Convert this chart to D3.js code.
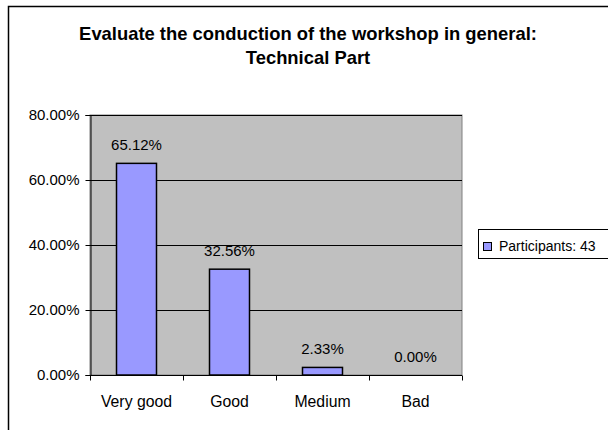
<!DOCTYPE html>
<html><head><meta charset="utf-8">
<script src="https://cdn.jsdelivr.net/npm/d3@7"></script>
<style>body{margin:0;background:#fff}svg{display:block;font-family:"Liberation Sans",Arial,sans-serif}</style>
</head><body><svg id="c" width="608" height="430"></svg>
<script>
const categories = ["Very good","Good","Medium","Bad"];
const values = [65.12, 32.56, 2.33, 0.00];
const yTicks = [0, 20, 40, 60, 80];
const seriesName = "Participants: 43";
const titleLines = ["Evaluate the conduction of the workshop in general:", "Technical Part"];

const svg = d3.select("#c");
svg.append("rect").attr("x",8.5).attr("y",6.5).attr("width",640).attr("height",460)
  .attr("fill","#fff").attr("stroke","#000").attr("stroke-width",1.5);

const m = {l:90, t:115, r:462, b:375};
const x = d3.scaleBand().domain(categories).range([m.l, m.r]).paddingInner(0.57).paddingOuter(0.285);
const xb = d3.scaleBand().domain(categories).range([m.l, m.r]);
const y = d3.scaleLinear().domain([0,80]).range([m.b, m.t]);

svg.append("rect").attr("x",m.l).attr("y",m.t).attr("width",m.r-m.l).attr("height",m.b-m.t)
  .attr("fill","#c0c0c0").attr("stroke","#808080").attr("stroke-width",1);

svg.append("g").selectAll("line").data(yTicks.slice(1)).join("line")
  .attr("x1",m.l).attr("x2",m.r).attr("y1",d=>Math.round(y(d))+0.5).attr("y2",d=>Math.round(y(d))+0.5)
  .attr("stroke","#000").attr("stroke-width",1);

svg.append("g").selectAll("rect").data(values).join("rect")
  .attr("x",(d,i)=>x(categories[i])).attr("width",x.bandwidth())
  .attr("y",d=>y(d)).attr("height",d=>y(0)-y(d))
  .attr("fill","#9999ff").attr("stroke","#000").attr("stroke-width",1.5);

// y axis
const ya = svg.append("g").attr("transform",`translate(${m.l+0.5},0)`)
  .call(d3.axisLeft(y).tickValues(yTicks).tickSize(5).tickPadding(6).tickFormat(d=>d.toFixed(2)+"%"));
ya.select(".domain").attr("stroke","#000");
ya.selectAll("text").attr("font-size",15).attr("fill","#000").attr("font-family","Liberation Sans, Arial, sans-serif");

// x axis
const xa = svg.append("g").attr("transform",`translate(0,${m.b+0.5})`);
xa.append("line").attr("x1",m.l).attr("x2",m.r).attr("stroke","#000");
const bounds = categories.map(c=>xb(c)).concat([m.r]);
xa.selectAll("line.t").data(bounds).join("line").attr("class","t")
  .attr("x1",d=>Math.round(d)+0.5).attr("x2",d=>Math.round(d)+0.5).attr("y1",0).attr("y2",5).attr("stroke","#000");
xa.selectAll("text").data(categories).join("text")
  .attr("x",d=>xb(d)+xb.bandwidth()/2).attr("y",31).attr("text-anchor","middle")
  .attr("font-size",15.8).text(d=>d);

// value labels
svg.append("g").selectAll("text").data(values).join("text")
  .attr("x",(d,i)=>x(categories[i])+x.bandwidth()/2).attr("y",d=>y(d)-13)
  .attr("text-anchor","middle").attr("font-size",15).text(d=>d.toFixed(2)+"%");

// title
svg.append("g").selectAll("text").data(titleLines).join("text")
  .attr("x",308).attr("y",(d,i)=>40+i*24).attr("text-anchor","middle")
  .attr("font-size",18.4).attr("font-weight","bold").text(d=>d);

// legend
const lg = svg.append("g");
lg.append("rect").attr("x",478.5).attr("y",229.5).attr("width",160).attr("height",29)
  .attr("fill","#fff").attr("stroke","#000");
lg.append("rect").attr("x",483.5).attr("y",242.5).attr("width",8).attr("height",8)
  .attr("fill","#9999ff").attr("stroke","#000");
lg.append("text").attr("x",499).attr("y",251).attr("font-size",14).text(seriesName);
</script></body></html>
